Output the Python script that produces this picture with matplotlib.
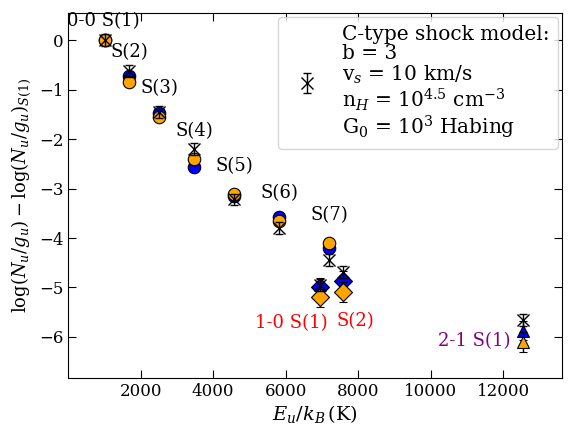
import matplotlib.pyplot as plt

plt.rcParams["font.family"] = "DejaVu Serif"
plt.rcParams["mathtext.fontset"] = "dejavuserif"

# upper level energies (K)
rot_E = [1015, 1682, 2504, 3474, 4586, 5829, 7197]
v10_E = [6956, 7584]
v21_E = [12550]

# observed (blue) and second set (orange)
rot_blue = [0.0, -0.72, -1.48, -2.57, -3.15, -3.57, -4.20]
rot_orange = [0.0, -0.85, -1.56, -2.40, -3.11, -3.65, -4.11]
rot_err = 0.04
v10_blue = [-5.00, -4.86]
v10_orange = [-5.19, -5.09]
v21_blue = [-5.87]
v21_orange = [-6.11]
vib_err = 0.2

# shock model
model_E = rot_E + v10_E + v21_E
model_val = [0.0, -0.62, -1.45, -2.20, -3.22, -3.80, -4.44, -4.95, -4.68, -5.66]
model_err = 0.12

labels = ["0-0 S(1)", "S(2)", "S(3)", "S(4)", "S(5)", "S(6)", "S(7)"]
label_pos = [(980, 0.38), (1697, -0.24), (2524, -0.97), (3490, -1.84), (4593, -2.55),
             (5835, -3.09), (7214, -3.54)]

fig = plt.figure(figsize=(5.68, 4.32), dpi=100)
ax = fig.add_axes([0.12, 0.125, 0.869, 0.845])

mk = dict(markeredgecolor="black", markeredgewidth=0.8, markersize=9, linestyle="none",
          ecolor="black", elinewidth=1, capsize=3)
ax.errorbar(rot_E, rot_blue, yerr=rot_err, fmt="o", color="blue", zorder=2, **mk)
ax.errorbar(rot_E, rot_orange, yerr=rot_err, fmt="o", color="orange", zorder=3, **mk)
ax.errorbar(v10_E, v10_blue, yerr=vib_err, fmt="D", color="blue", zorder=2, **mk)
ax.errorbar(v10_E, v10_orange, yerr=vib_err, fmt="D", color="orange", zorder=3, **mk)
ax.errorbar(v21_E, v21_blue, yerr=vib_err, fmt="^", color="blue", zorder=2, **mk)
ax.errorbar(v21_E, v21_orange, yerr=vib_err, fmt="^", color="orange", zorder=3, **mk)

leg_label = ("C-type shock model:\nb = 3\nv$_s$ = 10 km/s\n"
             "n$_H$ = 10$^{4.5}$ cm$^{-3}$\nG$_0$ = 10$^3$ Habing")
ax.errorbar(model_E, model_val, yerr=model_err, fmt="x", color="black", markersize=9,
            elinewidth=1, capsize=3, zorder=4, label=leg_label)

for lab, (x, y) in zip(labels, label_pos):
    ax.text(x, y, lab, ha="center", va="center", fontsize=13)
ax.text(6166, -5.72, "1-0 S(1)", ha="center", va="center", fontsize=13, color="red")
ax.text(7931, -5.68, "S(2)", ha="center", va="center", fontsize=13, color="red")
ax.text(11214, -6.08, "2-1 S(1)", ha="center", va="center", fontsize=13, color="purple")

ax.set_xlim(0, 13620)
ax.set_ylim(-6.83, 0.55)
ax.set_xticks([2000, 4000, 6000, 8000, 10000, 12000])
ax.set_yticks([0, -1, -2, -3, -4, -5, -6])
ax.tick_params(direction="in", top=True, right=True, labelsize=12, length=6)
ax.set_xlabel(r"$E_u/k_B\,$(K)", fontsize=14, labelpad=2)
ax.set_ylabel(r"$\log(N_u/g_u) - \log(N_u/g_u)_{S(1)}$", fontsize=13)
leg = ax.legend(loc="upper right", fontsize=14.5, handlelength=2.1, handletextpad=0.7,
                borderaxespad=0.2)
leg.get_texts()[0].set_linespacing(1.02)

fig.savefig("out.png", dpi=100)
